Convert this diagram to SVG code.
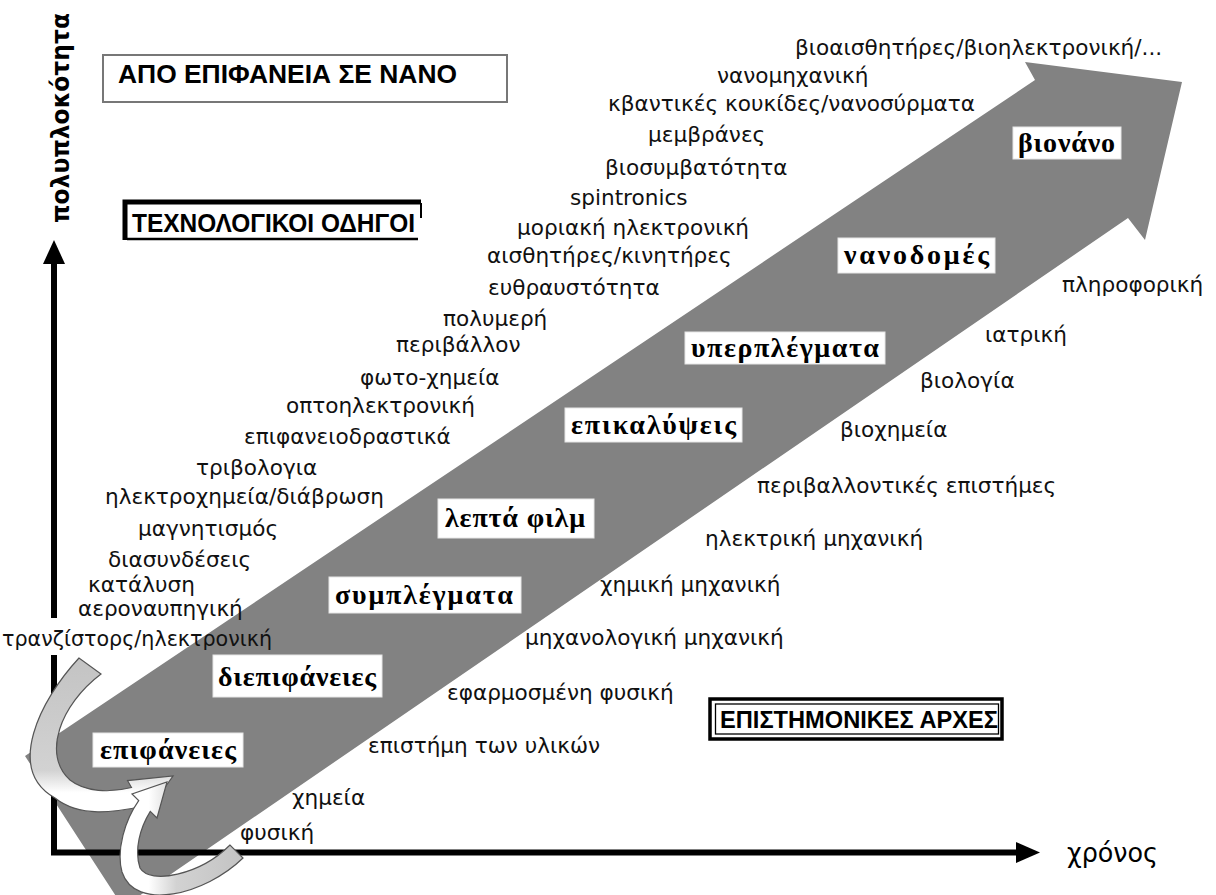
<svg xmlns="http://www.w3.org/2000/svg" width="1216" height="895" viewBox="0 0 1216 895">
<style>
.lbl{font-family:"DejaVu Sans","Noto Sans",sans-serif;font-size:21.6px;fill:#111}
.stage{font-family:"Liberation Serif","DejaVu Serif",serif;font-size:28px;font-weight:bold;fill:#000}
.sbox{fill:#fff;stroke:#e6e6e6;stroke-width:1}
.cap{font-family:"Liberation Sans",Arial,sans-serif;font-weight:bold;fill:#000}
.axis{stroke:#000;stroke-width:6;fill:none}
.curve{stroke:#555;stroke-width:1.2}
</style>
<defs>
<linearGradient id="gA" gradientUnits="userSpaceOnUse" x1="0" y1="655" x2="0" y2="815">
<stop offset="0" stop-color="#c3c3c3"/><stop offset="0.72" stop-color="#d2d2d2"/><stop offset="0.86" stop-color="#ffffff"/>
</linearGradient>
<linearGradient id="gB" gradientUnits="userSpaceOnUse" x1="243" y1="0" x2="122" y2="0">
<stop offset="0" stop-color="#c3c3c3"/><stop offset="0.55" stop-color="#d2d2d2"/><stop offset="0.78" stop-color="#ffffff"/>
</linearGradient>
</defs>
<rect width="1216" height="895" fill="#fff"/>

<g id="band">
<polygon points="25,756 1035,80 1025,62 1182,82 1145,240 1128,218 123,907" fill="#828282"/>
</g>

<g id="connectors">
<line class="axis" x1="54" y1="262" x2="54" y2="618"/>
<line class="axis" x1="54" y1="655" x2="54" y2="855"/>
<polygon points="54,240 43,264 65,264" fill="#000"/>
<line class="axis" x1="51" y1="852.5" x2="1018" y2="852.5"/>
<polygon points="1040,852.5 1016,842 1016,863" fill="#000"/>
<path class="curve" fill="url(#gA)" d="M79,658 C40,700 5,770 55,798 C80,818 115,812 142.5,806.5 L146.5,813.4 L173,776 L127.5,780.6 L131.5,787.5 C110,793 85,792 70,780 C42,755 60,705 101,674 Z"/>
<path class="curve" fill="url(#gB)" d="M243,858 C205,895 135,912 122,872 C116,850 125,820 138.7,800.6 L132,794 L167,782 L157,818 L150.3,811.4 C140,828 134,850 140,868 C150,885 200,875 230,845 Z"/>
</g>

<g id="axis-labels">
<text class="cap" font-size="24" transform="translate(69,223) rotate(-90)" textLength="210" lengthAdjust="spacingAndGlyphs" style="font-family:'DejaVu Sans',sans-serif">πολυπλοκότητα</text>
<text class="lbl" x="1067" y="862" style="font-size:26px;fill:#000" textLength="91" lengthAdjust="spacingAndGlyphs">χρόνος</text>
</g>

<g id="title">
<rect x="103" y="55" width="404" height="47" fill="#fff" stroke="#777" stroke-width="2"/>
<text class="cap" x="118" y="83" font-size="25" textLength="339" lengthAdjust="spacingAndGlyphs">ΑΠΟ ΕΠΙΦΑΝΕΙΑ ΣΕ ΝΑΝΟ</text>
</g>

<g id="tech-drivers">
<path d="M125,240 L125,202 L421,202" fill="none" stroke="#000" stroke-width="5"/>
<line x1="127" y1="239" x2="418" y2="239" stroke="#000" stroke-width="2.5"/>
<line x1="421" y1="203" x2="421" y2="218" stroke="#000" stroke-width="2"/>
<text class="cap" x="132" y="232" font-size="25" textLength="283" lengthAdjust="spacingAndGlyphs">ΤΕΧΝΟΛΟΓΙΚΟΙ ΟΔΗΓΟΙ</text>
</g>

<g id="science-principles">
<rect x="710" y="699" width="292" height="40" fill="#fff" stroke="#000" stroke-width="3.5"/>
<rect x="715.5" y="704" width="283" height="30" fill="none" stroke="#000" stroke-width="1.3"/>
<text class="cap" x="720" y="728" font-size="24" textLength="278" lengthAdjust="spacingAndGlyphs">ΕΠΙΣΤΗΜΟΝΙΚΕΣ ΑΡΧΕΣ</text>
</g>

<g id="stage-epifaneies"><rect class="sbox" x="93" y="733" width="150" height="34"/><text class="stage" x="100" y="759" textLength="136" lengthAdjust="spacing">επιφάνειες</text></g>
<g id="stage-diepifaneies"><rect class="sbox" x="213" y="655" width="169" height="42"/><text class="stage" x="218" y="686" textLength="158" lengthAdjust="spacing">διεπιφάνειες</text></g>
<g id="stage-symplegmata"><rect class="sbox" x="329" y="577" width="192" height="36"/><text class="stage" x="335" y="604" textLength="178" lengthAdjust="spacing">συμπλέγματα</text></g>
<g id="stage-lepta-film"><rect class="sbox" x="438" y="499" width="156" height="39"/><text class="stage" x="445" y="527" textLength="140" lengthAdjust="spacing">λεπτά φιλμ</text></g>
<g id="stage-epikalypseis"><rect class="sbox" x="565" y="408" width="177" height="34"/><text class="stage" x="571" y="434" textLength="165" lengthAdjust="spacing">επικαλύψεις</text></g>
<g id="stage-yperplegmata"><rect class="sbox" x="685" y="332" width="200" height="32"/><text class="stage" x="691" y="357" textLength="188" lengthAdjust="spacing">υπερπλέγματα</text></g>
<g id="stage-nanodomes"><rect class="sbox" x="838" y="238" width="157" height="35"/><text class="stage" x="844" y="264" textLength="145" lengthAdjust="spacing">νανοδομές</text></g>
<g id="stage-bionano"><rect class="sbox" x="1013" y="127" width="108" height="32"/><text class="stage" x="1018" y="152" textLength="97" lengthAdjust="spacing">βιονάνο</text></g>

<g id="drivers">
<text class="lbl" x="795" y="55">βιοαισθητήρες/βιοηλεκτρονική/...</text>
<text class="lbl" x="717" y="83">νανομηχανική</text>
<text class="lbl" x="608" y="111">κβαντικές κουκίδες/νανοσύρματα</text>
<text class="lbl" x="648" y="142">μεμβράνες</text>
<text class="lbl" x="605" y="175">βιοσυμβατότητα</text>
<text class="lbl" x="570" y="205">spintronics</text>
<text class="lbl" x="517" y="235">μοριακή ηλεκτρονική</text>
<text class="lbl" x="487" y="263">αισθητήρες/κινητήρες</text>
<text class="lbl" x="488" y="295">ευθραυστότητα</text>
<text class="lbl" x="443" y="326">πολυμερή</text>
<text class="lbl" x="396" y="352">περιβάλλον</text>
<text class="lbl" x="360" y="385">φωτο-χημεία</text>
<text class="lbl" x="286" y="413">οπτοηλεκτρονική</text>
<text class="lbl" x="244" y="444">επιφανειοδραστικά</text>
<text class="lbl" x="196" y="475">τριβολογια</text>
<text class="lbl" x="105" y="504">ηλεκτροχημεία/διάβρωση</text>
<text class="lbl" x="138" y="536">μαγνητισμός</text>
<text class="lbl" x="108" y="567">διασυνδέσεις</text>
<text class="lbl" x="88" y="592">κατάλυση</text>
<text class="lbl" x="78" y="616">αεροναυπηγική</text>
<text class="lbl" x="2" y="646" textLength="270" lengthAdjust="spacingAndGlyphs">τρανζίστορς/ηλεκτρονική</text>
</g>

<g id="principles">
<text class="lbl" x="1062" y="292">πληροφορική</text>
<text class="lbl" x="985" y="342">ιατρική</text>
<text class="lbl" x="920" y="388">βιολογία</text>
<text class="lbl" x="840" y="437">βιοχημεία</text>
<text class="lbl" x="757" y="493">περιβαλλοντικές επιστήμες</text>
<text class="lbl" x="705" y="546">ηλεκτρική μηχανική</text>
<text class="lbl" x="600" y="592">χημική μηχανική</text>
<text class="lbl" x="525" y="645">μηχανολογική μηχανική</text>
<text class="lbl" x="447" y="700">εφαρμοσμένη φυσική</text>
<text class="lbl" x="368" y="753">επιστήμη των υλικών</text>
<text class="lbl" x="292" y="805">χημεία</text>
<text class="lbl" x="240" y="840">φυσική</text>
</g>
</svg>
